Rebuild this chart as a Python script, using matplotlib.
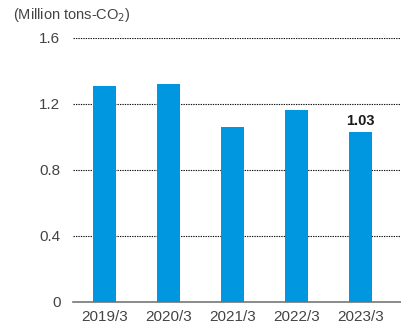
import matplotlib
matplotlib.use('Agg')
import matplotlib.pyplot as plt

# datos
years = ['2019/3', '2020/3', '2021/3', '2022/3', '2023/3']
emissions = [1.31, 1.32, 1.06, 1.16, 1.03]
yticks = [0, 0.4, 0.8, 1.2, 1.6]
ytick_labels = ['0', '0.4', '0.8', '1.2', '1.6']

plt.rcParams['font.family'] = ['Liberation Sans', 'DejaVu Sans']

fig = plt.figure(figsize=(4.01, 3.32), dpi=100)
ax = fig.add_axes([0.182, 0.0913, 0.818, 0.795])

x = list(range(len(years)))
ax.bar(x, emissions, width=0.36, color='#0096e0', zorder=3)

# etiqueta del último año
ax.text(x[-1], emissions[-1] + 0.02, f'{emissions[-1]:.2f}', ha='center', va='bottom',
        fontsize=10.5, fontweight='bold', color='#1a1a1a')

ax.set_xlim(-0.49, 4.63)
ax.set_ylim(0, 1.6)
ax.set_yticks(yticks)
ax.set_yticklabels(ytick_labels)
ax.set_xticks(x)
ax.set_xticklabels(years)

for y in yticks[1:]:
    ax.axhline(y, color='#111111', linestyle=(0, (1.2, 1.0)), linewidth=0.8, zorder=1)

for s in ['top', 'right', 'left']:
    ax.spines[s].set_visible(False)
ax.spines['bottom'].set_color('#777777')
ax.spines['bottom'].set_linewidth(1.2)

ax.tick_params(axis='y', length=0, pad=9, labelsize=11, labelcolor='#444444')
ax.tick_params(axis='x', length=0, pad=6, labelsize=11, labelcolor='#444444')

fig.text(13 / 401, 1 - 15 / 332, '(Million tons-CO$_2$)', fontsize=10.5, color='#444444',
         ha='left', va='center')

fig.savefig('out.png', dpi=100)
